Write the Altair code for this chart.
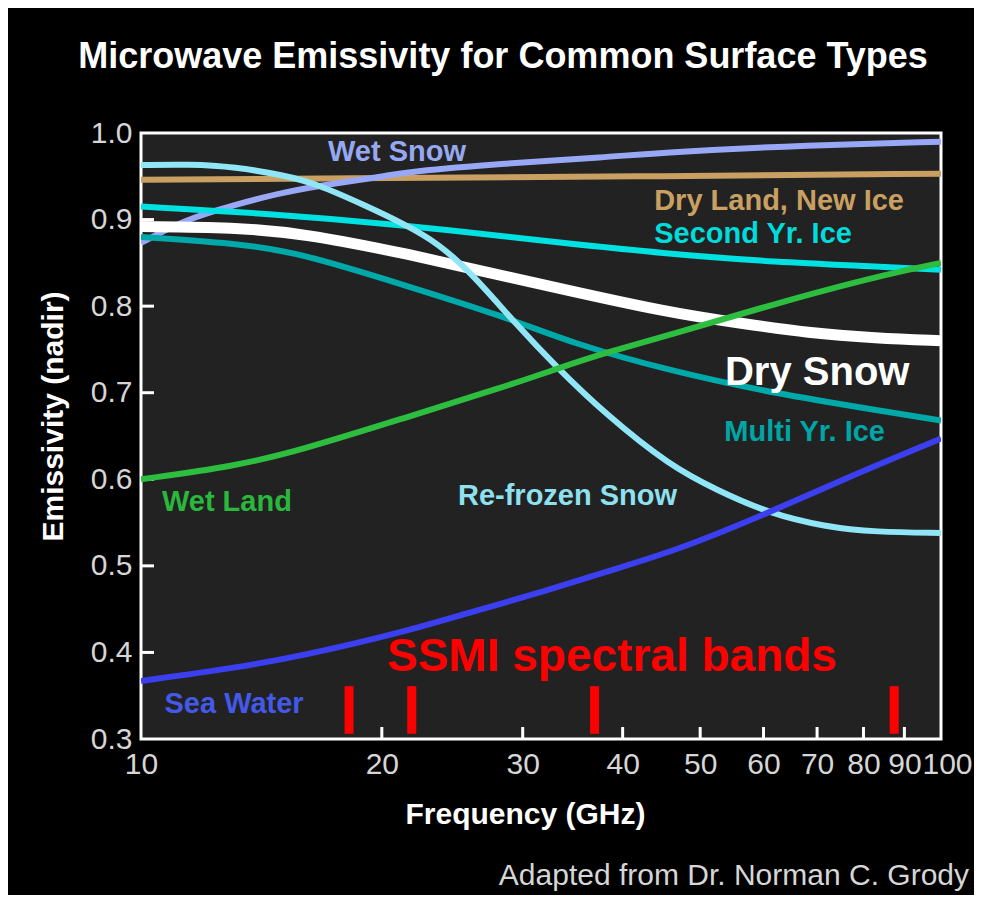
import altair as alt
import pandas as pd

FONT = "Liberation Sans, Arial, Helvetica, sans-serif"

# ---------------- text ----------------
title_text = "Microwave Emissivity for Common Surface Types"
credit_text = "Adapted from Dr. Norman C. Grody"
x_title = "Frequency (GHz)"
y_title = "Emissivity (nadir)"

# ---------------- axes ----------------
x_ticks = [10, 20, 30, 40, 50, 60, 70, 80, 90, 100]
y_ticks = [0.3, 0.4, 0.5, 0.6, 0.7, 0.8, 0.9, 1.0]
inner_x_ticks = [20, 30, 40, 50, 60, 70, 80, 90]
inner_y_ticks = [0.4, 0.5, 0.6, 0.7, 0.8, 0.9]

# ---------------- series (frequency GHz, emissivity) ----------------
dry_land_f = [10, 20, 45, 100]
dry_land_e = [0.946, 0.948, 0.950, 0.953]

wet_snow_f = [10, 11.35, 13.1, 15.1, 17.5, 20.2, 21.4, 28.5, 38.0, 45.9, 68.2, 100]
wet_snow_e = [0.873, 0.900, 0.917, 0.932, 0.942, 0.950, 0.955, 0.965, 0.972, 0.978, 0.986, 0.990]

second_yr_f = [10, 14.4, 21.2, 31.3, 45.9, 62.1, 82.8, 100]
second_yr_e = [0.915, 0.907, 0.894, 0.876, 0.860, 0.851, 0.846, 0.842]

multi_yr_f = [10, 13.1, 15.9, 21.2, 28.5, 34.6, 45.9, 62.1, 82.8, 100]
multi_yr_e = [0.880, 0.873, 0.861, 0.825, 0.788, 0.757, 0.725, 0.699, 0.680, 0.668]

dry_snow_f = [10, 13.1, 15.9, 21.2, 31.3, 45.9, 56.4, 68.2, 82.8, 100]
dry_snow_e = [0.892, 0.891, 0.884, 0.862, 0.826, 0.792, 0.780, 0.769, 0.763, 0.760]

refrozen_f = [10, 11.5, 13.1, 15.1, 16.5, 19.2, 21.3, 23.5, 25.9, 29.3, 33.2, 38.0, 45.9, 52.6, 60.8, 71.7, 82.8, 100]
refrozen_e = [0.963, 0.964, 0.961, 0.951, 0.942, 0.915, 0.895, 0.873, 0.838, 0.781, 0.728, 0.676, 0.615, 0.587, 0.561, 0.545, 0.539, 0.538]

wet_land_f = [10, 13.1, 15.9, 21.2, 28.5, 33.2, 38.0, 45.9, 62.1, 82.8, 100]
wet_land_e = [0.600, 0.615, 0.634, 0.670, 0.707, 0.728, 0.746, 0.767, 0.803, 0.834, 0.850]

sea_water_f = [10, 13.1, 15.9, 21.4, 25.9, 31.3, 38.0, 46.5, 60.8, 75.0, 100]
sea_water_e = [0.367, 0.382, 0.396, 0.424, 0.447, 0.468, 0.493, 0.517, 0.561, 0.599, 0.647]

# SSMI spectral bands
ssmi_freq = [18.2, 21.8, 36.9, 87.4]
ssmi_low = 0.306
ssmi_high = 0.361

# curve labels: text, anchor frequency, anchor emissivity (left/baseline)
label_text = ["Wet Snow", "Dry Land, New Ice", "Second Yr. Ice", "Multi Yr. Ice",
              "Wet Land", "Re-frozen Snow", "Sea Water"]
label_freq = [17.13, 43.8, 43.8, 53.6, 10.62, 24.9, 10.7]
label_emis = [0.9677, 0.9111, 0.8729, 0.6442, 0.5634, 0.5703, 0.330]

dry_snow_label = "Dry Snow"
dry_snow_label_f = 53.7
dry_snow_label_e = 0.7089

ssmi_label = "SSMI spectral bands"
ssmi_label_f = 20.3
ssmi_label_e = 0.3786

# ---------------- styles ----------------
series = [
    ("Dry Land, New Ice", dry_land_f, dry_land_e, "#c9a062", 6),
    ("Wet Snow", wet_snow_f, wet_snow_e, "#98a8f6", 6),
    ("Second Yr. Ice", second_yr_f, second_yr_e, "#00e2e2", 6),
    ("Multi Yr. Ice", multi_yr_f, multi_yr_e, "#00a9a9", 6),
    ("Dry Snow", dry_snow_f, dry_snow_e, "#ffffff", 11),
    ("Re-frozen Snow", refrozen_f, refrozen_e, "#90e6f6", 6),
    ("Wet Land", wet_land_f, wet_land_e, "#2dbd3f", 6),
    ("Sea Water", sea_water_f, sea_water_e, "#3c3ff0", 6),
]
label_colors = {
    "Wet Snow": "#97a8f2",
    "Dry Land, New Ice": "#c9a062",
    "Second Yr. Ice": "#00dcdc",
    "Multi Yr. Ice": "#00a6a6",
    "Wet Land": "#2ab83c",
    "Re-frozen Snow": "#8fe0f0",
    "Sea Water": "#4459e8",
}

W, H = 800, 606

xs = alt.Scale(type="log", domain=[10, 100], nice=False)
ys = alt.Scale(domain=[0.3, 1.0], nice=False, zero=False)

x_axis = alt.Axis(
    values=x_ticks, format="d", title=x_title,
    labelFont=FONT, labelFontSize=30, labelColor="#d6d6d6", labelPadding=10,
    labelOverlap=False, labelFlush=False,
    labelOffset={"condition": {"test": "datum.value == 100", "value": 6}, "value": 0},
    ticks=False, tickSize=0, domain=False, grid=False,
    titleFont=FONT, titleFontSize=30, titleFontWeight="bold", titleColor="white",
    titleX=384, titleY=84, titleAlign="center", titleBaseline="alphabetic",
)
y_axis = alt.Axis(
    values=y_ticks, format=".1f", title=y_title,
    labelFont=FONT, labelFontSize=30, labelColor="#d6d6d6", labelPadding=9,
    ticks=False, tickSize=0, domain=False, grid=False,
    titleFont=FONT, titleFontSize=30, titleFontWeight="bold", titleColor="white",
    titleAngle=270, titleX=-79, titleY=283, titleAlign="center", titleBaseline="alphabetic",
)

X = alt.X("f:Q", scale=xs, axis=x_axis)
Y = alt.Y("e:Q", scale=ys, axis=y_axis)

layers = []

# inner tick marks
layers.append(
    alt.Chart(pd.DataFrame({"e": inner_y_ticks}))
    .mark_rule(color="white", strokeWidth=3)
    .encode(y=Y, x=alt.value(0), x2=alt.value(13))
)
layers.append(
    alt.Chart(pd.DataFrame({"f": inner_x_ticks}))
    .mark_rule(color="white", strokeWidth=3)
    .encode(x=X, y=alt.value(H), y2=alt.value(H - 12))
)

# curves
for name, fs, es, col, sw in series:
    df = pd.DataFrame({"f": fs, "e": es, "s": name})
    layers.append(
        alt.Chart(df)
        .mark_line(color=col, strokeWidth=sw, interpolate="basis", clip=True)
        .encode(x=X, y=Y)
    )

# SSMI bands
band_df = pd.DataFrame({"f": ssmi_freq, "e": [ssmi_low] * len(ssmi_freq),
                        "e2": [ssmi_high] * len(ssmi_freq)})
layers.append(
    alt.Chart(band_df)
    .mark_rule(color="#ff0000", strokeWidth=9)
    .encode(x=X, y=Y, y2="e2:Q")
)

# curve labels
for t, f, e in zip(label_text, label_freq, label_emis):
    layers.append(
        alt.Chart(pd.DataFrame({"f": [f], "e": [e], "t": [t]}))
        .mark_text(font=FONT, fontSize=29, fontWeight="bold", color=label_colors[t],
                   align="left", baseline="alphabetic")
        .encode(x=X, y=Y, text="t:N")
    )

layers.append(
    alt.Chart(pd.DataFrame({"f": [dry_snow_label_f], "e": [dry_snow_label_e], "t": [dry_snow_label]}))
    .mark_text(font=FONT, fontSize=40, fontWeight="bold", color="white",
               align="left", baseline="alphabetic")
    .encode(x=X, y=Y, text="t:N")
)
layers.append(
    alt.Chart(pd.DataFrame({"f": [ssmi_label_f], "e": [ssmi_label_e], "t": [ssmi_label]}))
    .mark_text(font=FONT, fontSize=46, fontWeight="bold", color="#ff0000",
               align="left", baseline="alphabetic")
    .encode(x=X, y=Y, text="t:N")
)

# chart title and credit
layers.append(
    alt.Chart(pd.DataFrame({"t": [title_text]}))
    .mark_text(font=FONT, fontSize=36, fontWeight="bold", color="white",
               align="center", baseline="alphabetic")
    .encode(x=alt.value(362), y=alt.value(-65), text="t:N")
)
layers.append(
    alt.Chart(pd.DataFrame({"t": [credit_text]}))
    .mark_text(font=FONT, fontSize=30, color="#d6d6d6",
               align="right", baseline="alphabetic")
    .encode(x=alt.value(828), y=alt.value(752), text="t:N")
)

chart = (
    alt.layer(*layers)
    .properties(
        width=W, height=H,
        padding={"left": 133, "top": 125, "right": 33, "bottom": 156},
        autosize=alt.AutoSizeParams(type="none"),
    )
    .configure(background="black")
    .configure_view(fill="#222222", stroke="white", strokeWidth=3)
)

chart.save("out.html", embed_options={"renderer": "svg", "actions": False})
